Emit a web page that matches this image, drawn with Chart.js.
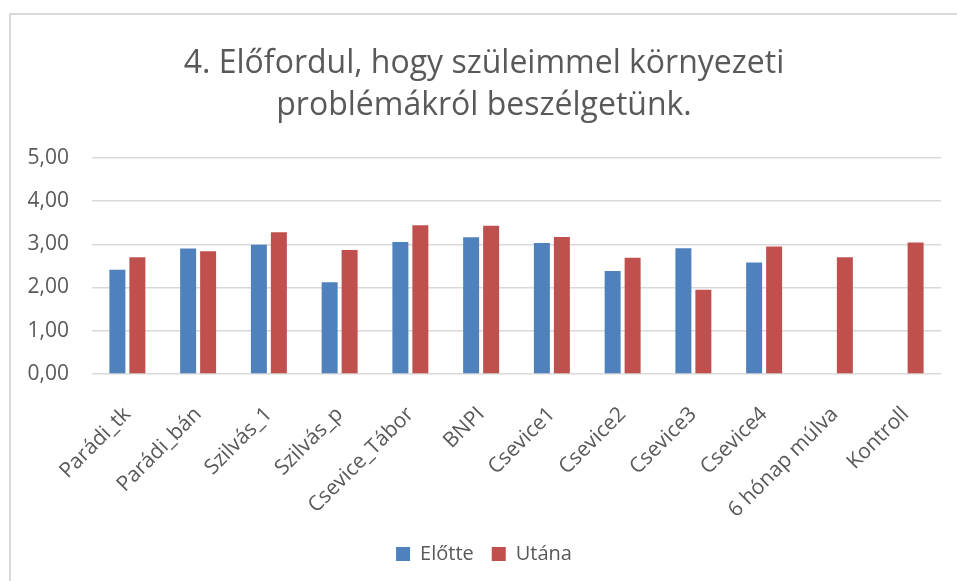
<!DOCTYPE html>
<html>
<head>
<meta charset="utf-8">
<script src="https://cdn.jsdelivr.net/npm/chart.js@4"></script>
<style>
  html, body { margin: 0; padding: 0; background: #fff; overflow: hidden; }
  #wrap { position: relative; width: 957px; height: 581px; }
  #frame { position: absolute; left: 9px; top: 13px; width: 1000px; height: 1000px;
           border-left: 2px solid #d9d9d9; border-top: 2px solid #d9d9d9; }
  #chart { position: absolute; left: 0; top: 0; }
</style>
</head>
<body>
<div id="wrap">
  <div id="frame"></div>
  <canvas id="chart" width="957" height="581"></canvas>
</div>
<script>
const labels = ["Parádi_tk", "Parádi_bán", "Szilvás_1", "Szilvás_p", "Csevice_Tábor", "BNPI",
  "Csevice1", "Csevice2", "Csevice3", "Csevice4", "6 hónap múlva", "Kontroll"];
const elotte = [2.41, 2.90, 2.99, 2.12, 3.05, 3.16, 3.03, 2.38, 2.91, 2.58, null, null];
const utana = [2.70, 2.84, 3.28, 2.87, 3.44, 3.43, 3.17, 2.69, 1.95, 2.95, 2.70, 3.04];
const titleLines = ["4. Előfordul, hogy szüleimmel környezeti", "problémákról beszélgetünk."];

const font = "'Open Sans', 'Noto Sans', sans-serif";
const grey = "#595959";

const ctx = document.getElementById("chart").getContext("2d");

new Chart(ctx, {
  type: "bar",
  data: {
    labels,
    datasets: [
      { label: "Előtte", data: elotte, backgroundColor: "#4f81bd",
        categoryPercentage: 0.565, barPercentage: 0.8 },
      { label: "Utána", data: utana, backgroundColor: "#c0504d",
        categoryPercentage: 0.565, barPercentage: 0.8 }
    ]
  },
  options: {
    responsive: false,
    animation: false,
    layout: { padding: { left: 27, right: 16, top: 0, bottom: 7 } },
    plugins: {
      title: {
        display: true,
        text: titleLines,
        color: grey,
        font: { family: font, size: 32, weight: "normal", lineHeight: 1.34 },
        padding: { top: 42, bottom: 30 }
      },
      legend: {
        position: "bottom",
        labels: {
          color: grey,
          font: { family: font, size: 20 },
          boxWidth: 14,
          boxHeight: 14,
          padding: 18
        }
      },
      tooltip: { enabled: false }
    },
    scales: {
      x: {
        grid: { display: false },
        border: { display: false },
        ticks: {
          color: grey,
          font: { family: font, size: 21 },
          minRotation: 45,
          maxRotation: 45,
          padding: 20
        },
        afterFit: s => { s.height = 152; }
      },
      y: {
        min: 0,
        max: 5,
        grid: { color: "#d9d9d9", lineWidth: 1.5, drawTicks: false },
        border: { display: false },
        ticks: {
          stepSize: 1,
          color: grey,
          font: { family: font, size: 21 },
          padding: 23,
          callback: v => v.toFixed(2).replace(".", ",")
        },
        afterFit: s => { s.width = 65; }
      }
    }
  }
});
</script>
</body>
</html>
